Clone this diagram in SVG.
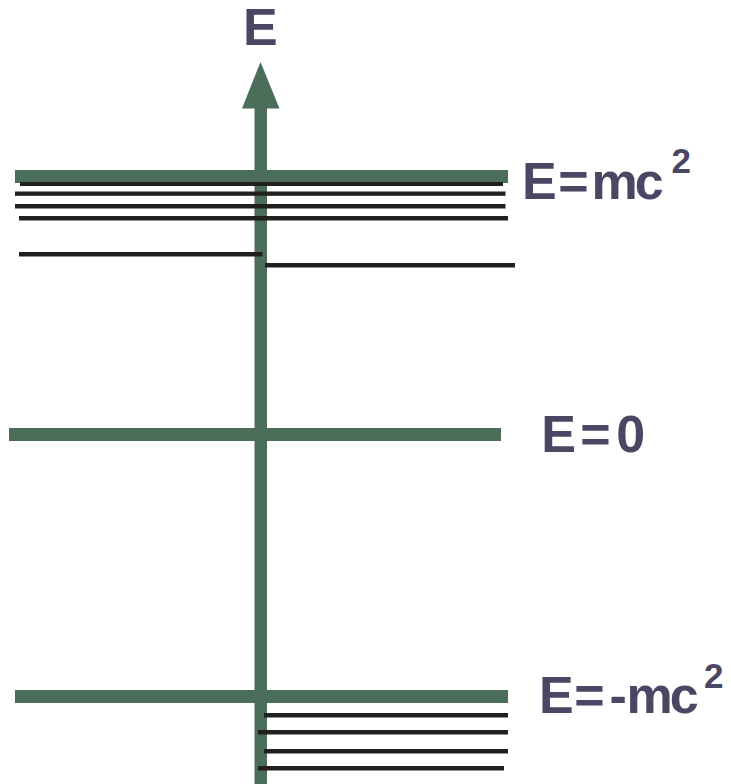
<svg xmlns="http://www.w3.org/2000/svg" width="731" height="784" viewBox="0 0 731 784">
<style>
.lbl{font-family:"Liberation Sans",Arial,sans-serif;font-weight:bold;font-size:52px;fill:#4a4664}
.sup{font-size:35px}
.g{fill:#4a6e5a}
.k{fill:#231f20}
</style>
<rect width="731" height="784" fill="#ffffff"/>
<g id="axis">
<rect class="g" x="254.5" y="104" width="12.5" height="680"/>
<polygon class="g" points="260.5,62 242,108.5 279.5,108.5"/>
<text class="lbl" x="243" y="45">E</text>
</g>
<g id="level-plus-mc2">
<rect class="g" x="15" y="170" width="493" height="13"/>
<text class="lbl" x="522 558.2 591.6 634.7" y="199">E=mc</text>
<text class="lbl sup" x="671.5" y="173.3">2</text>
</g>
<g id="level-zero">
<rect class="g" x="9" y="428" width="492" height="13"/>
<text class="lbl" x="541.2 580.2 616.3" y="452">E=0</text>
</g>
<g id="level-minus-mc2">
<rect class="g" x="15" y="690" width="493" height="13"/>
<text class="lbl" x="538.9 574.2 609.6 626.6 669.7" y="713.3">E=-mc</text>
<text class="lbl sup" x="704" y="688.3">2</text>
</g>
<g id="states-upper">
<rect class="k" x="20" y="182" width="483" height="4"/>
<rect class="k" x="15" y="191.5" width="490.5" height="4.3"/>
<rect class="k" x="15" y="204" width="490.5" height="4.5"/>
<rect class="k" x="19" y="216" width="489" height="4.5"/>
<rect class="k" x="19" y="252" width="243.5" height="4.5"/>
<rect class="k" x="265" y="263" width="250" height="4.5"/>
</g>
<g id="states-lower">
<rect class="k" x="264" y="713" width="244" height="4.5"/>
<rect class="k" x="258" y="730" width="250" height="4.5"/>
<rect class="k" x="264" y="749" width="244" height="4.5"/>
<rect class="k" x="258" y="766" width="246" height="4.5"/>
</g>
</svg>
